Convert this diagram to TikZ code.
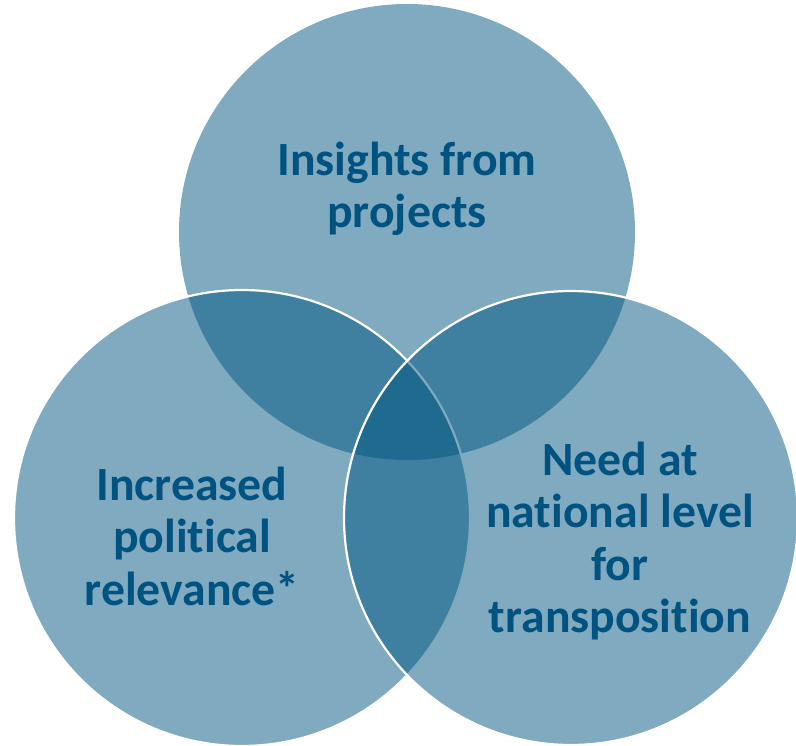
\documentclass[tikz,border=0pt]{standalone}
\usepackage{fontspec}
\setmainfont{Carlito}[RawFeature={-liga;-dlig;-clig}]
\definecolor{vennblue}{RGB}{0,85,128}
\definecolor{txtblue}{RGB}{0,82,128}
\begin{document}
\begin{tikzpicture}[x=1pt,y=-1pt,
  venn/.style={fill=vennblue,fill opacity=0.5},
  rim/.style={draw=white,line width=2.2pt},
  lbl/.style={text=txtblue,align=center,inner sep=0pt,
    font=\fontsize{47.7}{52.5}\selectfont\bfseries}]
\useasboundingbox (0,0) rectangle (796,746);
\fill[venn] (407,232) circle[radius=228];
\fill[venn] (242,518) circle[radius=228];
\draw[rim] (242,518) circle[radius=228];
\fill[venn] (571,518) circle[radius=227];
\draw[rim] (571,518) circle[radius=227];
\node[lbl] (top) at (407,189) {Insights from\\projects};
\node[lbl] (left) at (192,536) {Increased\\political\\relevance*};
\node[lbl] (right) at (620,541) {Need at\\national level\\for\\transposition};
\end{tikzpicture}
\end{document}
